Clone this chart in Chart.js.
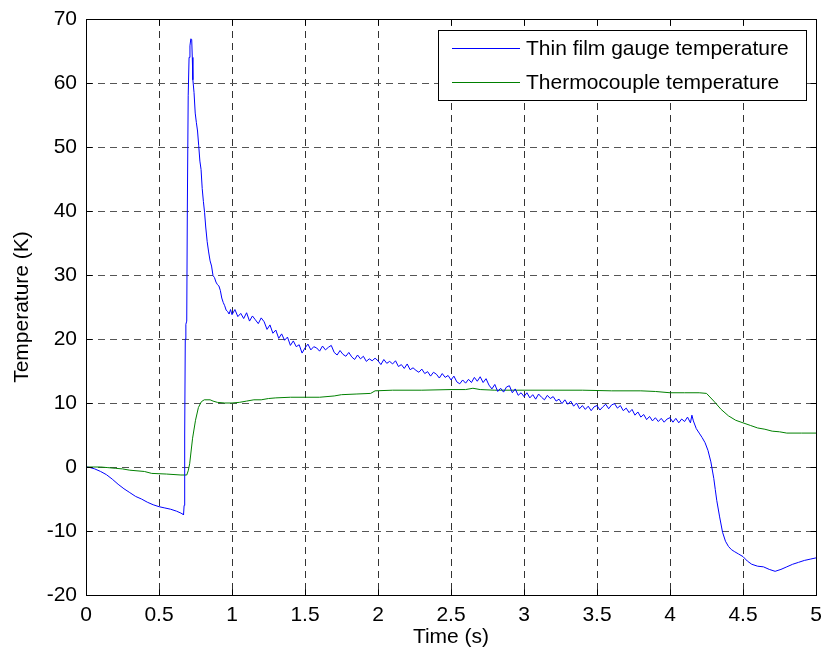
<!DOCTYPE html>
<html>
<head>
<meta charset="utf-8">
<script src="https://cdn.jsdelivr.net/npm/chart.js@4/dist/chart.umd.min.js"></script>
<style>
html,body{margin:0;padding:0;background:#fff;}
canvas{display:block;}
</style>
</head>
<body>
<canvas id="c" width="822" height="658"></canvas>
<script>
// ---- Data ----
const seriesNames = ["Thin film gauge temperature", "Thermocouple temperature"];

const gaugeTime = [0,0.03,0.06,0.1,0.14,0.18,0.22,0.26,0.3,0.34,0.38,0.42,0.46,0.5,0.54,0.58,0.62,0.65,0.665,
0.668,0.672,0.676,0.68,0.684,0.69,0.694,0.7,0.706,0.712,0.718,0.724,0.728,0.732,0.74,0.748,0.756,0.764,0.772,0.78,0.788,0.796,0.804,0.812,0.82,0.83,0.84,0.85,0.86,0.87,0.88,0.89,0.9,0.91,0.92,0.93,0.94,0.95,0.96,0.97,0.98,0.99,
1.0,1.02,1.04,1.06,1.08,1.1,1.12,1.14,1.16,1.18,1.2,1.22,1.24,1.26,1.28,1.3,1.32,1.34,1.36,1.38,1.4,1.42,1.44,1.46,1.48,
1.5,1.52,1.54,1.56,1.58,1.6,1.62,1.64,1.66,1.68,1.7,1.72,1.74,1.76,1.78,1.8,1.82,1.84,1.86,1.88,1.9,1.92,1.94,1.96,1.98,
2.0,2.02,2.04,2.06,2.08,2.1,2.12,2.14,2.16,2.18,2.2,2.22,2.24,2.26,2.28,2.3,2.32,2.34,2.36,2.38,2.4,2.42,2.44,2.46,2.48,
2.5,2.52,2.54,2.56,2.58,2.6,2.62,2.64,2.66,2.68,2.7,2.72,2.74,2.76,2.78,2.8,2.82,2.84,2.86,2.88,2.9,2.92,2.94,2.96,2.98,
3.0,3.02,3.04,3.06,3.08,3.1,3.12,3.14,3.16,3.18,3.2,3.22,3.24,3.26,3.28,3.3,3.32,3.34,3.36,3.38,3.4,3.42,3.44,3.46,3.48,
3.5,3.52,3.54,3.56,3.58,3.6,3.62,3.64,3.66,3.68,3.7,3.72,3.74,3.76,3.78,3.8,3.82,3.84,3.86,3.88,3.9,3.92,3.94,3.96,3.98,
4.0,4.02,4.04,4.06,4.08,4.1,4.12,4.14,4.15,4.16,
4.18,4.2,4.22,4.24,4.26,4.28,4.3,4.31,4.32,4.34,4.36,4.38,4.4,4.42,4.44,4.47,4.5,4.53,4.56,4.6,4.64,4.68,4.72,4.76,4.8,4.84,4.88,4.92,4.96,5.0];

const gaugeTemp = [0,-0.1,-0.3,-0.7,-1.2,-1.9,-2.7,-3.4,-4.0,-4.6,-5.0,-5.5,-5.9,-6.2,-6.4,-6.6,-6.9,-7.2,-7.4,
-7.5,-6.0,5,20,22.3,22.8,40,58,64,65.8,66.9,66.8,64,60.5,58.5,55.3,53.8,52.5,50.2,47.8,46.5,43.5,41.5,39.8,37.5,35.2,33.6,32.2,31.4,29.9,29.6,28.9,28.5,28.3,27.6,26.4,25.7,25.2,24.5,24.3,23.9,24.6,
23.8,24.6,23.5,24.0,23.2,24.1,22.8,23.6,23.0,22.4,23.3,22.7,21.5,22.2,20.9,21.4,20.1,20.8,19.8,20.3,19.0,19.7,18.8,19.1,17.8,
18.6,19.2,18.3,18.8,18.6,18.1,18.9,18.3,18.7,19.0,17.9,17.5,18.2,17.6,17.3,17.9,17.2,16.8,17.5,16.9,17.3,16.5,16.9,16.6,17.0,
16.6,16.0,16.8,16.2,16.5,16.1,16.6,15.7,16.0,15.4,16.1,15.2,15.5,15.1,14.8,15.3,14.6,14.9,14.2,14.8,14.5,13.9,14.6,14.0,14.3,
13.6,14.2,13.3,13.0,13.6,13.1,13.7,13.2,14.0,13.4,14.1,13.2,13.8,12.8,12.2,12.9,11.8,12.3,11.7,12.5,12.7,11.6,12.2,11.2,11.6,
11.0,11.6,10.8,11.3,10.6,11.4,10.9,10.5,11.2,10.7,11.0,10.3,10.6,9.9,10.5,9.8,10.3,9.5,10.0,9.1,9.6,9.0,9.5,8.8,9.4,
9.6,8.9,9.4,9.8,9.1,9.7,9.9,9.2,9.6,8.8,9.2,8.5,9.0,8.1,8.6,7.8,8.2,7.4,7.9,7.2,7.7,7.1,7.6,7.0,7.5,
7.7,7.0,7.6,6.9,7.5,7.1,7.8,6.9,8.1,7.2,
6.0,5.3,4.6,3.8,2.6,0.8,-1.8,-3.5,-5.2,-7.8,-10.2,-11.6,-12.4,-12.9,-13.2,-13.6,-14.0,-14.7,-15.2,-15.5,-15.6,-16.0,-16.3,-16.0,-15.6,-15.2,-14.9,-14.6,-14.4,-14.2];

const coupleTime = [0,0.1,0.15,0.2,0.25,0.3,0.4,0.45,0.55,0.65,0.69,0.7,0.71,0.72,0.73,0.75,0.77,0.79,0.81,0.85,0.87,0.9,0.95,1.0,1.05,1.1,1.15,1.2,1.25,1.3,1.4,1.5,1.6,1.7,1.75,1.85,1.95,1.98,2.1,2.3,2.5,2.6,2.65,2.7,2.8,3.0,3.2,3.4,3.6,3.8,3.9,4.0,4.1,4.2,4.25,4.3,4.35,4.4,4.45,4.5,4.55,4.6,4.65,4.7,4.75,4.8,4.9,5.0];
const coupleTemp = [0,0,-0.1,-0.2,-0.3,-0.5,-0.7,-1.0,-1.1,-1.25,-1.25,-0.6,0.5,2.5,4.5,7.3,9.3,10.2,10.5,10.5,10.3,10.1,10.0,10.0,10.1,10.3,10.5,10.5,10.7,10.8,10.9,10.9,10.9,11.1,11.3,11.4,11.5,11.9,12.0,12.0,12.1,12.1,12.3,12.1,12.0,12.0,12.0,12.0,11.9,11.9,11.8,11.6,11.6,11.6,11.5,10.3,9.0,8.0,7.3,6.9,6.5,6.1,5.9,5.6,5.5,5.3,5.3,5.3];

const xTickStep = 0.5, xMin = 0, xMax = 5;
const yTickStep = 10, yMin = -20, yMax = 70;
const xTitle = "Time (s)";
const yTitle = "Temperature (K)";

const FONT = "'Liberation Sans', Arial, Helvetica, sans-serif";
const FS = 21;

function pairs(t, v) { return t.map((x, i) => ({x: x, y: v[i]})); }
function fmt(v) { return String(Number(v.toFixed(2))); }

const framePlugin = {
  id: 'frame',
  afterDraw(chart) {
    const ctx = chart.ctx;
    const a = chart.chartArea;
    const xs = chart.scales.x, ys = chart.scales.y;
    ctx.save();
    ctx.strokeStyle = '#000';
    ctx.lineWidth = 1;
    ctx.setLineDash([]);
    const L = Math.round(a.left) + 0.5, R = Math.round(a.right) + 0.5;
    const T = Math.round(a.top) + 0.5, B = Math.round(a.bottom) + 0.5;
    ctx.strokeRect(L, T, R - L, B - T);
    const tl = 6;
    ctx.beginPath();
    xs.ticks.forEach(t => {
      const px = Math.round(xs.getPixelForValue(t.value)) + 0.5;
      ctx.moveTo(px, B); ctx.lineTo(px, B - tl);
      ctx.moveTo(px, T); ctx.lineTo(px, T + tl);
    });
    ys.ticks.forEach(t => {
      const py = Math.round(ys.getPixelForValue(t.value)) + 0.5;
      ctx.moveTo(L, py); ctx.lineTo(L + tl, py);
      ctx.moveTo(R, py); ctx.lineTo(R - tl, py);
    });
    ctx.stroke();

    // legend
    const bx = 438.5, by = 30.5, bw = 368, bh = 70;
    ctx.fillStyle = '#fff';
    ctx.fillRect(bx, by, bw, bh);
    ctx.strokeRect(bx, by, bw, bh);
    ctx.font = FS + 'px ' + FONT;
    ctx.textBaseline = 'middle';
    ctx.textAlign = 'left';
    const rows = [48, 82];
    chart.data.datasets.forEach((ds, i) => {
      const y = rows[i] + 0.5;
      ctx.strokeStyle = ds.borderColor;
      ctx.beginPath(); ctx.moveTo(452, y); ctx.lineTo(520, y); ctx.stroke();
      ctx.fillStyle = '#000';
      ctx.fillText(ds.label, 526, rows[i] + 1);
    });
    ctx.restore();
  }
};

new Chart(document.getElementById('c'), {
  type: 'line',
  data: {
    datasets: [
      { label: seriesNames[0], data: pairs(gaugeTime, gaugeTemp), borderColor: '#0000ff', borderWidth: 1, pointRadius: 0, tension: 0, fill: false },
      { label: seriesNames[1], data: pairs(coupleTime, coupleTemp), borderColor: '#008000', borderWidth: 1, pointRadius: 0, tension: 0, fill: false }
    ]
  },
  options: {
    responsive: false,
    animation: false,
    devicePixelRatio: 1,
    layout: { padding: { top: 19, right: 6, bottom: 0, left: 0 } },
    plugins: { legend: { display: false }, tooltip: { enabled: false } },
    scales: {
      x: {
        type: 'linear', min: xMin, max: xMax,
        ticks: { stepSize: xTickStep, color: '#000', font: { family: FONT, size: FS }, padding: 8, maxRotation: 0, callback: fmt },
        grid: { color: '#333', drawTicks: false, lineWidth: 1 },
        border: { display: false, dash: [7, 5] },
        title: { display: true, text: xTitle, color: '#000', font: { family: FONT, size: FS }, padding: { top: 0, bottom: 8 } },
        afterFit(s) { s.height = 63; s.paddingLeft = 0; s.paddingRight = 0; }
      },
      y: {
        type: 'linear', min: yMin, max: yMax,
        ticks: { stepSize: yTickStep, color: '#000', font: { family: FONT, size: FS }, padding: 9, callback: fmt },
        grid: { color: '#555', drawTicks: false, lineWidth: 1 },
        border: { display: false, dash: [7, 5] },
        title: { display: true, text: yTitle, color: '#000', font: { family: FONT, size: FS }, padding: { top: 10, bottom: 0 } },
        afterFit(s) { s.width = 86; s.paddingTop = 0; s.paddingBottom = 0; }
      }
    }
  },
  plugins: [framePlugin]
});
</script>
</body>
</html>
